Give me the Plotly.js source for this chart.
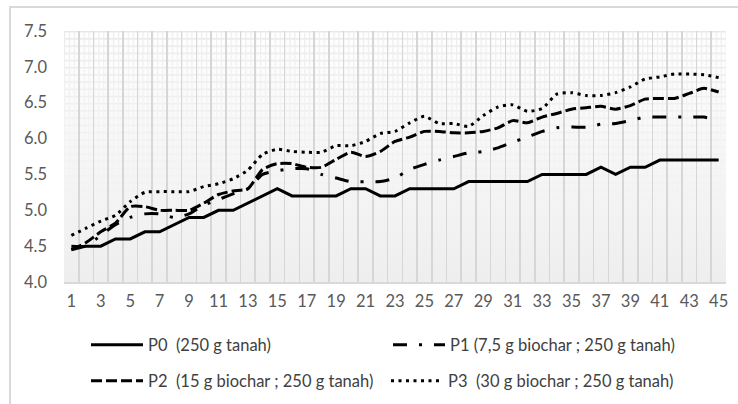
<!DOCTYPE html>
<html>
<head>
<meta charset="utf-8">
<script src="https://cdn.plot.ly/plotly-3.0.1.min.js"></script>
<style>
  html, body { margin: 0; padding: 0; background: #ffffff; overflow: hidden; }
  #wrap { position: relative; width: 738px; height: 404px; }
  #chart { position: absolute; left: 0; top: 0; width: 738px; height: 404px; }
  #frame { position: absolute; left: 9px; top: 6px; width: 760px; height: 420px;
           border-left: 2px solid #d9d9d9; border-top: 2px solid #d9d9d9; pointer-events: none; }
</style>
</head>
<body>
<div id="wrap">
  <div id="chart"></div>
  <div id="frame"></div>
</div>
<script>
// ---- data ----
const days = [1,2,3,4,5,6,7,8,9,10,11,12,13,14,15,16,17,18,19,20,21,22,23,24,25,26,27,28,29,30,31,32,33,34,35,36,37,38,39,40,41,42,43,44,45];

const p0 = [4.45,4.5,4.5,4.6,4.6,4.7,4.7,4.8,4.9,4.9,
            5.0,5.0,5.1,5.2,5.3,5.2,5.2,5.2,5.2,5.3,
            5.3,5.2,5.2,5.3,5.3,5.3,5.3,5.4,5.4,5.4,
            5.4,5.4,5.5,5.5,5.5,5.5,5.6,5.5,5.6,5.6,
            5.7,5.7,5.7,5.7,5.7];

const p1 = [4.5,4.5,4.65,4.8,4.9,4.95,4.95,4.9,4.95,5.07,
            5.15,5.23,5.3,5.5,5.55,5.58,5.58,5.5,5.45,5.4,
            5.4,5.4,5.45,5.57,5.64,5.7,5.75,5.8,5.82,5.87,
            5.95,6.02,6.1,6.15,6.16,6.16,6.2,6.21,6.25,6.3,
            6.3,6.3,6.3,6.3,6.25];

const p2 = [4.45,4.55,4.7,4.82,5.05,5.05,5.0,5.0,5.0,5.1,
            5.22,5.27,5.3,5.57,5.65,5.65,5.6,5.6,5.71,5.81,
            5.75,5.82,5.96,6.02,6.1,6.1,6.08,6.08,6.1,6.15,
            6.25,6.22,6.3,6.35,6.41,6.43,6.45,6.41,6.46,6.55,
            6.56,6.56,6.63,6.7,6.65];

const p3 = [4.65,4.75,4.85,4.93,5.12,5.25,5.26,5.26,5.26,5.33,
            5.37,5.44,5.56,5.78,5.85,5.82,5.81,5.81,5.9,5.9,
            5.96,6.07,6.1,6.22,6.31,6.21,6.21,6.17,6.32,6.44,
            6.47,6.38,6.42,6.62,6.64,6.6,6.6,6.64,6.72,6.83,
            6.86,6.9,6.9,6.89,6.85];

const seriesNames = [
  "P0\u00a0\u00a0(250 g tanah)",
  "P1 (7,5 g biochar ; 250 g tanah)",
  "P2\u00a0\u00a0(15 g biochar ; 250 g tanah)",
  "P3\u00a0\u00a0(30 g biochar ; 250 g tanah)"
];

const yTicks = [4.0, 4.5, 5.0, 5.5, 6.0, 6.5, 7.0, 7.5];
const xTicks = days.filter(d => d % 2 === 1);

// ---- styling ----
const FONT = "Lato, 'Liberation Sans', Arial, sans-serif";
const LW = 3;

const traces = [
  { y: p0, name: seriesNames[0], legend: 'legend',
    line: { color: '#000000', width: LW, dash: 'solid', shape: 'linear' } },
  { y: p1, name: seriesNames[1], legend: 'legend2',
    line: { color: '#000000', width: LW, dash: '14px,12px,3px,12px', shape: 'spline', smoothing: 0.6 } },
  { y: p2, name: seriesNames[2], legend: 'legend3',
    line: { color: '#000000', width: LW, dash: '11px,4px', shape: 'spline', smoothing: 0.6 } },
  { y: p3, name: seriesNames[3], legend: 'legend4',
    line: { color: '#000000', width: LW, dash: '3px,4.5px', shape: 'spline', smoothing: 0.6 } }
].map(t => Object.assign({ x: days, type: 'scatter', mode: 'lines', hoverinfo: 'skip' }, t));

// background: light gradient with a faint pattern fading towards the bottom
const bgSvg =
  "<svg xmlns='http://www.w3.org/2000/svg' width='662' height='251' viewBox='0 0 662 251' preserveAspectRatio='none'>" +
  "<defs>" +
  "<linearGradient id='g' x1='0' y1='0' x2='0' y2='1'>" +
  "<stop offset='0' stop-color='#ffffff'/><stop offset='1' stop-color='#eeeeee'/></linearGradient>" +
  "<linearGradient id='mg' x1='0' y1='0' x2='0' y2='1'>" +
  "<stop offset='0' stop-color='#ffffff' stop-opacity='1'/><stop offset='0.7' stop-color='#ffffff' stop-opacity='0'/></linearGradient>" +
  "<mask id='m'><rect width='662' height='251' fill='url(#mg)'/></mask>" +
  "<pattern id='p' width='4.9' height='7.2' patternUnits='userSpaceOnUse'>" +
  "<rect x='0' y='0' width='4.9' height='1.4' fill='#e6e6e6'/>" +
  "<rect x='0' y='0' width='1.2' height='7.2' fill='#ececec'/></pattern>" +
  "</defs>" +
  "<rect width='662' height='251' fill='url(#g)'/>" +
  "<rect width='662' height='251' fill='url(#p)' mask='url(#m)'/>" +
  "</svg>";
const bgUri = 'data:image/svg+xml;charset=utf-8,' + encodeURIComponent(bgSvg);

const L = 64, R = 12, T = 31, B = 122;
const W = 738, H = 404;
const pw = W - L - R, ph = H - T - B;
const px2x = px => (px - L) / pw;
const py2y = py => (H - B - py) / ph;

function legendAt(pxX, pyY) {
  return {
    x: px2x(pxX), y: py2y(pyY), xanchor: 'left', yanchor: 'middle',
    orientation: 'h', bgcolor: 'rgba(0,0,0,0)', borderwidth: 0,
    itemwidth: 52, itemclick: false, itemdoubleclick: false,
    font: { family: FONT, size: 16.5, color: '#404040' }
  };
}

const layout = {
  width: W, height: H,
  margin: { l: L, r: R, t: T, b: B, pad: 0, autoexpand: false },
  paper_bgcolor: 'rgba(0,0,0,0)',
  plot_bgcolor: 'rgba(0,0,0,0)',
  showlegend: true,
  font: { family: FONT, color: '#595959' },
  xaxis: {
    type: 'linear', range: [0.5, 45.5], fixedrange: true, automargin: false,
    tickmode: 'array', tickvals: xTicks, ticktext: xTicks.map(String),
    showgrid: false, zeroline: false, ticks: '', ticklabelstandoff: 4,
    showline: true, linecolor: '#d9d9d9', linewidth: 1.5,
    tickfont: { family: FONT, size: 16.5, color: '#595959' },
    minor: { tick0: 0.5, dtick: 1, showgrid: true, gridcolor: '#d6d6d6', gridwidth: 1.6, ticks: '' }
  },
  yaxis: {
    range: [4.0, 7.5], fixedrange: true, automargin: false,
    tickmode: 'array', tickvals: yTicks, ticktext: yTicks.map(v => v.toFixed(1)),
    showgrid: false, zeroline: false, ticks: '', ticklabelstandoff: 16,
    tickfont: { family: FONT, size: 16.5, color: '#595959' }
  },
  images: [{
    source: bgUri, xref: 'paper', yref: 'paper', x: 0, y: 1, sizex: 1, sizey: 1,
    xanchor: 'left', yanchor: 'top', sizing: 'stretch', layer: 'below'
  }],
  legend: legendAt(86, 345),
  legend2: legendAt(388, 345),
  legend3: legendAt(86, 381),
  legend4: legendAt(386, 381)
};

Plotly.newPlot('chart', traces, layout, { staticPlot: true, displayModeBar: false });
</script>
</body>
</html>
